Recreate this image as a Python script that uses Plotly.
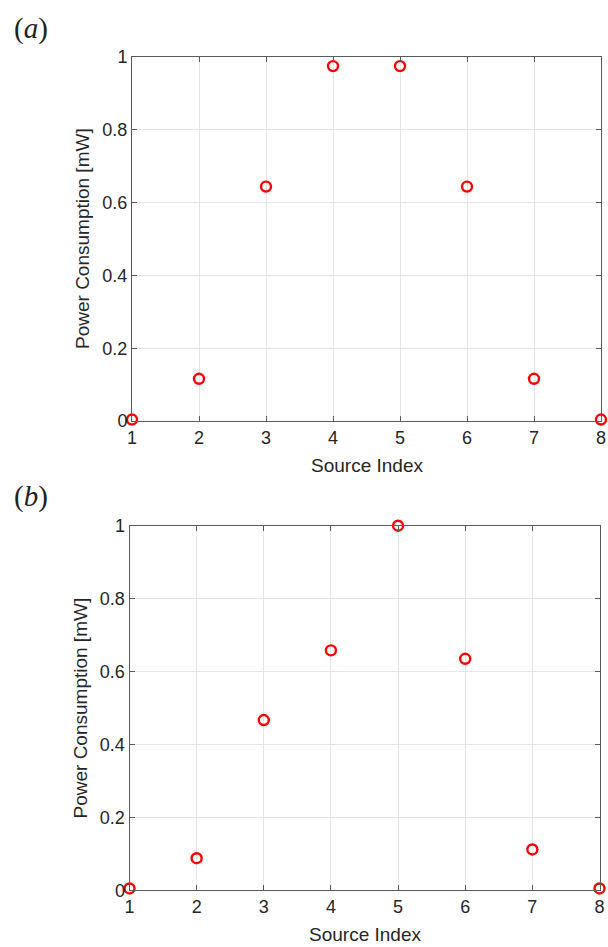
import plotly.graph_objects as go

# Source indices and measured power per source for the two configurations
source_index = [1, 2, 3, 4, 5, 6, 7, 8]
power_a = [0.004, 0.116, 0.644, 0.975, 0.975, 0.644, 0.116, 0.004]
power_b = [0.005, 0.088, 0.467, 0.658, 1.0, 0.635, 0.112, 0.005]
y_ticks = [0, 0.2, 0.4, 0.6, 0.8, 1]
y_ticklabels = ["0", "0.2", "0.4", "0.6", "0.8", "1"]
panel_labels = ["(<i>a</i>)", "(<i>b</i>)"]
x_title = "Source Index"
y_title = "Power Consumption [mW]"

W, H = 608, 947
axis_color = "#5a5a5a"
text_color = "#262626"
grid_color = "#e6e6e6"
sans = "Liberation Sans, Arial, sans-serif"
tick_font = dict(family=sans, size=18, color=text_color)
label_font = dict(family=sans, size=19, color=text_color)

# plot-area boxes in pixels: (left, right, top, bottom)
boxes = [(132, 601, 57, 421), (129.5, 599.5, 525.7, 890.3)]

fig = go.Figure()

marker = dict(symbol="circle-open", size=10, color="#ff0000", line=dict(width=2.4, color="#ff0000"))
for i, power in enumerate([power_a, power_b]):
    sfx = "" if i == 0 else str(i + 1)
    fig.add_trace(go.Scatter(x=source_index, y=power, mode="markers", marker=marker,
                             cliponaxis=False, xaxis="x" + sfx, yaxis="y" + sfx,
                             showlegend=False))


def xaxis(l, r, anchor):
    return dict(domain=[l / W, r / W], anchor=anchor, range=[1, 8], tickmode="array",
                tickvals=source_index, ticks="inside", ticklen=5, tickcolor=axis_color,
                showline=True, linecolor=axis_color, linewidth=1, mirror="ticks",
                showgrid=True, gridcolor=grid_color, gridwidth=1, zeroline=False,
                tickfont=tick_font, automargin=False)


def yaxis(t, b, anchor):
    return dict(domain=[1 - b / H, 1 - t / H], anchor=anchor, range=[0, 1], tickmode="array",
                tickvals=y_ticks, ticktext=y_ticklabels, ticks="inside", ticklen=5,
                tickcolor=axis_color, showline=True, linecolor=axis_color, linewidth=1,
                mirror="ticks", showgrid=True, gridcolor=grid_color, gridwidth=1,
                zeroline=False, tickfont=tick_font, automargin=False)


layout = dict(width=W, height=H, margin=dict(l=0, r=0, t=0, b=0),
              paper_bgcolor="white", plot_bgcolor="white", template="none")
for i, (l, r, t, b) in enumerate(boxes):
    sfx = "" if i == 0 else str(i + 1)
    layout["xaxis" + sfx] = xaxis(l, r, "y" + sfx)
    layout["yaxis" + sfx] = yaxis(t, b, "x" + sfx)
fig.update_layout(**layout)

for i, (l, r, t, b) in enumerate(boxes):
    # axis titles
    fig.add_annotation(text=x_title, xref="paper", yref="paper",
                       x=(l + r) / 2 / W, y=1 - (b + 44) / H, xanchor="center", yanchor="middle",
                       showarrow=False, font=label_font)
    fig.add_annotation(text=y_title, xref="paper", yref="paper", textangle=-90,
                       x=(l - 50) / W, y=1 - (t + b) / 2 / H, xanchor="center", yanchor="middle",
                       showarrow=False, font=label_font)
    # panel tag
    fig.add_annotation(text=panel_labels[i], xref="paper", yref="paper",
                       x=12 / W, y=1 - (t - 29) / H, xanchor="left", yanchor="middle",
                       showarrow=False,
                       font=dict(family="Liberation Serif, Times New Roman, serif", size=29,
                                 color="#222222"))

fig.write_html("out.html")
